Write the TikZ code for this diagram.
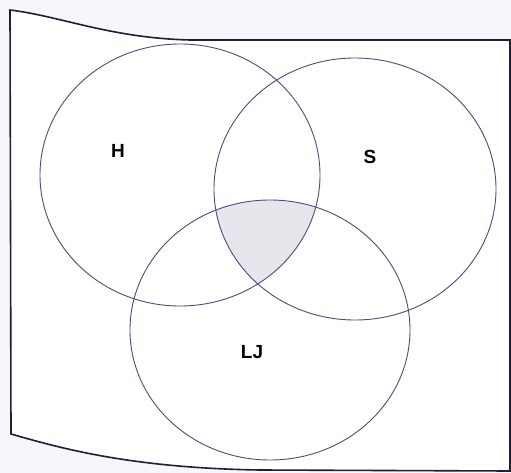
\documentclass[tikz,border=0pt]{standalone}
\usepackage{fontspec}
\setmainfont{Liberation Sans}
\definecolor{bg}{HTML}{F6F7FA}
\definecolor{circ}{HTML}{4A4C7E}
\definecolor{frame}{HTML}{1E1F38}
\definecolor{lightfill}{HTML}{E6E7EC}
\begin{document}
\begin{tikzpicture}[x=1pt,y=-1pt,
  setcircle/.style={draw=circ,line width=0.9pt},
  label/.style={font=\bfseries\fontsize{19}{22}\selectfont,text=black,inner sep=0pt}]
\useasboundingbox (0,0) rectangle (511,473);
\fill[bg] (0,0) rectangle (511,473);
% page frame
\draw[frame,line width=1.6pt,fill=white]
  (10,10) .. controls (60,16) and (110,38) .. (190,40) -- (510,40) -- (510,471)
  -- (260,470) .. controls (130,468) and (60,448) .. (11,434) -- cycle;
% shaded triple intersection
\begin{scope}
  \clip (180,175) ellipse [x radius=140, y radius=131];
  \clip (355,189) ellipse [x radius=141, y radius=131];
  \fill[lightfill] (270,330) ellipse [x radius=140, y radius=130];
\end{scope}
% circles
\draw[setcircle] (180,175) ellipse [x radius=140, y radius=131];
\draw[setcircle] (355,189) ellipse [x radius=141, y radius=131];
\draw[setcircle] (270,330) ellipse [x radius=140, y radius=130];
% labels
\node[label] (h) at (118,151) {H};
\node[label] (s) at (370,157) {S};
\node[label] (lj) at (252,352) {LJ};
\end{tikzpicture}
\end{document}
